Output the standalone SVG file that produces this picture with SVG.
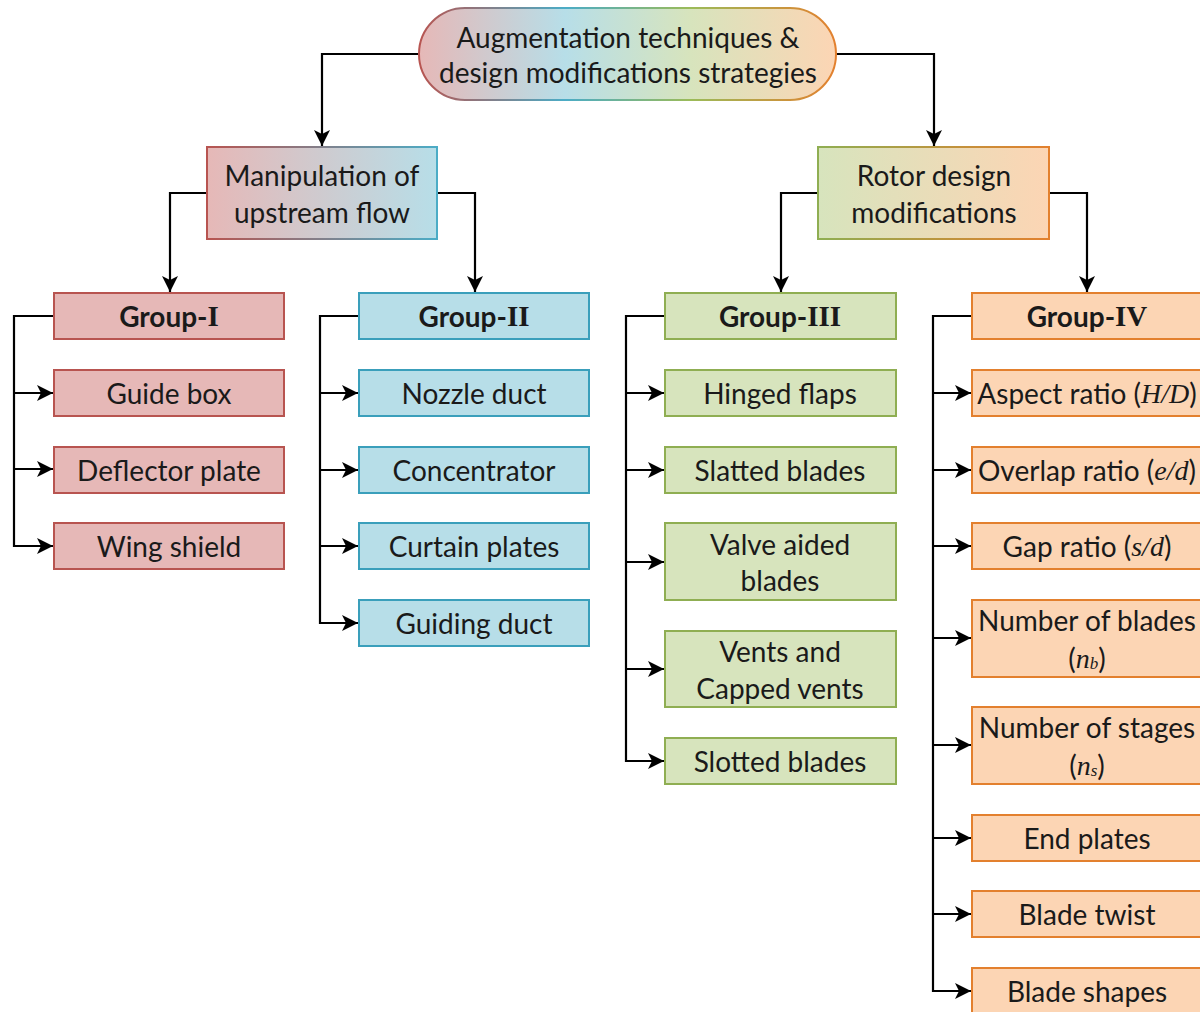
<svg xmlns="http://www.w3.org/2000/svg" width="1200" height="1012" viewBox="0 0 1200 1012">
<defs>
<linearGradient id="gRoot" x1="0" y1="0" x2="1" y2="0">
<stop offset="0" stop-color="#e6b8b7"/>
<stop offset="0.35" stop-color="#b7dee8"/>
<stop offset="0.65" stop-color="#d7e4bd"/>
<stop offset="1" stop-color="#fcd5b4"/>
</linearGradient>
<linearGradient id="gRootS" x1="0" y1="0" x2="1" y2="0">
<stop offset="0" stop-color="#b85450"/>
<stop offset="0.35" stop-color="#4bacc6"/>
<stop offset="0.65" stop-color="#9bbb59"/>
<stop offset="1" stop-color="#e3802e"/>
</linearGradient>
<linearGradient id="gManip" x1="0" y1="0" x2="1" y2="0">
<stop offset="0" stop-color="#e6b8b7"/>
<stop offset="1" stop-color="#b7dee8"/>
</linearGradient>
<linearGradient id="gManipS" x1="0" y1="0" x2="1" y2="0">
<stop offset="0" stop-color="#b85450"/>
<stop offset="1" stop-color="#4bacc6"/>
</linearGradient>
<linearGradient id="gRotor" x1="0" y1="0" x2="1" y2="0">
<stop offset="0" stop-color="#d7e4bd"/>
<stop offset="1" stop-color="#fcd5b4"/>
</linearGradient>
<linearGradient id="gRotorS" x1="0" y1="0" x2="1" y2="0">
<stop offset="0" stop-color="#8fae52"/>
<stop offset="1" stop-color="#e3802e"/>
</linearGradient>
<marker id="arr" markerUnits="userSpaceOnUse" markerWidth="18" markerHeight="16" refX="16" refY="8" orient="auto">
<path d="M0,0 L16,8 L0,16 L4,8 z" fill="#000"/>
</marker>
</defs>
<style>
text{font-family:"Lato","Liberation Sans",sans-serif;font-size:28px;fill:#1a1a1a;text-anchor:middle;dominant-baseline:central}
.h{font-weight:bold}
.rn{font-family:"Liberation Serif",serif;font-weight:bold;font-size:29px}
.it{font-family:"Liberation Serif",serif;font-style:italic}
.sub{font-size:17px}
.c{fill:none;stroke:#000;stroke-width:2.2}
.g1{fill:#e6b8b7;stroke:#b85450;stroke-width:2}
.g2{fill:#b7dee8;stroke:#3a9fbb;stroke-width:2}
.g3{fill:#d7e4bd;stroke:#8fae52;stroke-width:2}
.g4{fill:#fcd5b4;stroke:#e3802e;stroke-width:2}
</style>
<rect width="1200" height="1012" fill="#fff"/>
<g id="connectors">
<path class="c" d="M419,54 H322 V146" marker-end="url(#arr)"/>
<path class="c" d="M836,54 H934 V146" marker-end="url(#arr)"/>
<path class="c" d="M207,193 H170 V292" marker-end="url(#arr)"/>
<path class="c" d="M437,193 H475 V292" marker-end="url(#arr)"/>
<path class="c" d="M818,193 H781 V292" marker-end="url(#arr)"/>
<path class="c" d="M1049,193 H1087 V292" marker-end="url(#arr)"/>
<path class="c" d="M54,316 H14 V546 H53" marker-end="url(#arr)"/>
<path class="c" d="M14,393 H53" marker-end="url(#arr)"/>
<path class="c" d="M14,469 H53" marker-end="url(#arr)"/>
<path class="c" d="M359,316 H320 V623 H358" marker-end="url(#arr)"/>
<path class="c" d="M320,393 H358" marker-end="url(#arr)"/>
<path class="c" d="M320,470 H358" marker-end="url(#arr)"/>
<path class="c" d="M320,546 H358" marker-end="url(#arr)"/>
<path class="c" d="M665,316 H626 V761 H664" marker-end="url(#arr)"/>
<path class="c" d="M626,393 H664" marker-end="url(#arr)"/>
<path class="c" d="M626,470 H664" marker-end="url(#arr)"/>
<path class="c" d="M626,562 H664" marker-end="url(#arr)"/>
<path class="c" d="M626,669 H664" marker-end="url(#arr)"/>
<path class="c" d="M972,316 H933 V991 H971" marker-end="url(#arr)"/>
<path class="c" d="M933,393 H971" marker-end="url(#arr)"/>
<path class="c" d="M933,470 H971" marker-end="url(#arr)"/>
<path class="c" d="M933,546 H971" marker-end="url(#arr)"/>
<path class="c" d="M933,638 H971" marker-end="url(#arr)"/>
<path class="c" d="M933,745 H971" marker-end="url(#arr)"/>
<path class="c" d="M933,838 H971" marker-end="url(#arr)"/>
<path class="c" d="M933,914 H971" marker-end="url(#arr)"/>
</g>
<g id="root">
<rect x="419" y="8" width="417" height="92" rx="46" fill="url(#gRoot)" stroke="url(#gRootS)" stroke-width="2"/>
<text x="628" y="37">Augmentation techniques &amp;</text>
<text x="628" y="72">design modifications strategies</text>
</g>
<g id="manipulation">
<rect x="207" y="147" width="230" height="92" fill="url(#gManip)" stroke="url(#gManipS)" stroke-width="2"/>
<text x="322" y="175">Manipulation of</text>
<text x="322" y="212">upstream flow</text>
</g>
<g id="rotor">
<rect x="818" y="147" width="231" height="92" fill="url(#gRotor)" stroke="url(#gRotorS)" stroke-width="2"/>
<text x="934" y="175">Rotor design</text>
<text x="934" y="212">modifications</text>
</g>
<g id="group1">
<rect class="g1" x="54" y="293" width="230" height="46"/>
<text x="169" y="316" class="h">Group-<tspan class="rn">I</tspan></text>
</g>
<g id="guide-box"><rect class="g1" x="54" y="370" width="230" height="46"/><text x="169" y="393">Guide box</text></g>
<g id="deflector-plate"><rect class="g1" x="54" y="447" width="230" height="46"/><text x="169" y="470">Deflector plate</text></g>
<g id="wing-shield"><rect class="g1" x="54" y="523" width="230" height="46"/><text x="169" y="546">Wing shield</text></g>
<g id="group2">
<rect class="g2" x="359" y="293" width="230" height="46"/>
<text x="474" y="316" class="h">Group-<tspan class="rn">II</tspan></text>
</g>
<g id="nozzle-duct"><rect class="g2" x="359" y="370" width="230" height="46"/><text x="474" y="393">Nozzle duct</text></g>
<g id="concentrator"><rect class="g2" x="359" y="447" width="230" height="46"/><text x="474" y="470">Concentrator</text></g>
<g id="curtain-plates"><rect class="g2" x="359" y="523" width="230" height="46"/><text x="474" y="546">Curtain plates</text></g>
<g id="guiding-duct"><rect class="g2" x="359" y="600" width="230" height="46"/><text x="474" y="623">Guiding duct</text></g>
<g id="group3">
<rect class="g3" x="665" y="293" width="231" height="46"/>
<text x="780" y="316" class="h">Group-<tspan class="rn">III</tspan></text>
</g>
<g id="hinged-flaps"><rect class="g3" x="665" y="370" width="231" height="46"/><text x="780" y="393">Hinged flaps</text></g>
<g id="slatted-blades"><rect class="g3" x="665" y="447" width="231" height="46"/><text x="780" y="470">Slatted blades</text></g>
<g id="valve-aided"><rect class="g3" x="665" y="523" width="231" height="77"/><text x="780" y="544">Valve aided</text><text x="780" y="580">blades</text></g>
<g id="vents"><rect class="g3" x="665" y="631" width="231" height="76"/><text x="780" y="651">Vents and</text><text x="780" y="688">Capped vents</text></g>
<g id="slotted-blades"><rect class="g3" x="665" y="738" width="231" height="46"/><text x="780" y="761">Slotted blades</text></g>
<g id="group4">
<rect class="g4" x="972" y="293" width="232" height="46"/>
<text x="1087" y="316" class="h">Group-<tspan class="rn">IV</tspan></text>
</g>
<g id="aspect-ratio"><rect class="g4" x="972" y="370" width="232" height="46"/><text x="1087" y="393">Aspect ratio (<tspan class="it">H/D</tspan>)</text></g>
<g id="overlap-ratio"><rect class="g4" x="972" y="447" width="232" height="46"/><text x="1087" y="470">Overlap ratio (<tspan class="it">e/d</tspan>)</text></g>
<g id="gap-ratio"><rect class="g4" x="972" y="523" width="232" height="46"/><text x="1087" y="546">Gap ratio (<tspan class="it">s/d</tspan>)</text></g>
<g id="number-blades"><rect class="g4" x="972" y="600" width="232" height="77"/><text x="1087" y="620">Number of blades</text><text x="1087" y="658">(<tspan class="it">n</tspan><tspan class="it sub" dy="5">b</tspan><tspan dy="-5">)</tspan></text></g>
<g id="number-stages"><rect class="g4" x="972" y="707" width="232" height="77"/><text x="1087" y="727">Number of stages</text><text x="1087" y="765">(<tspan class="it">n</tspan><tspan class="it sub" dy="5">s</tspan><tspan dy="-5">)</tspan></text></g>
<g id="end-plates"><rect class="g4" x="972" y="815" width="232" height="46"/><text x="1087" y="838">End plates</text></g>
<g id="blade-twist"><rect class="g4" x="972" y="891" width="232" height="46"/><text x="1087" y="914">Blade twist</text></g>
<g id="blade-shapes"><rect class="g4" x="972" y="968" width="232" height="46"/><text x="1087" y="991">Blade shapes</text></g>
</svg>
